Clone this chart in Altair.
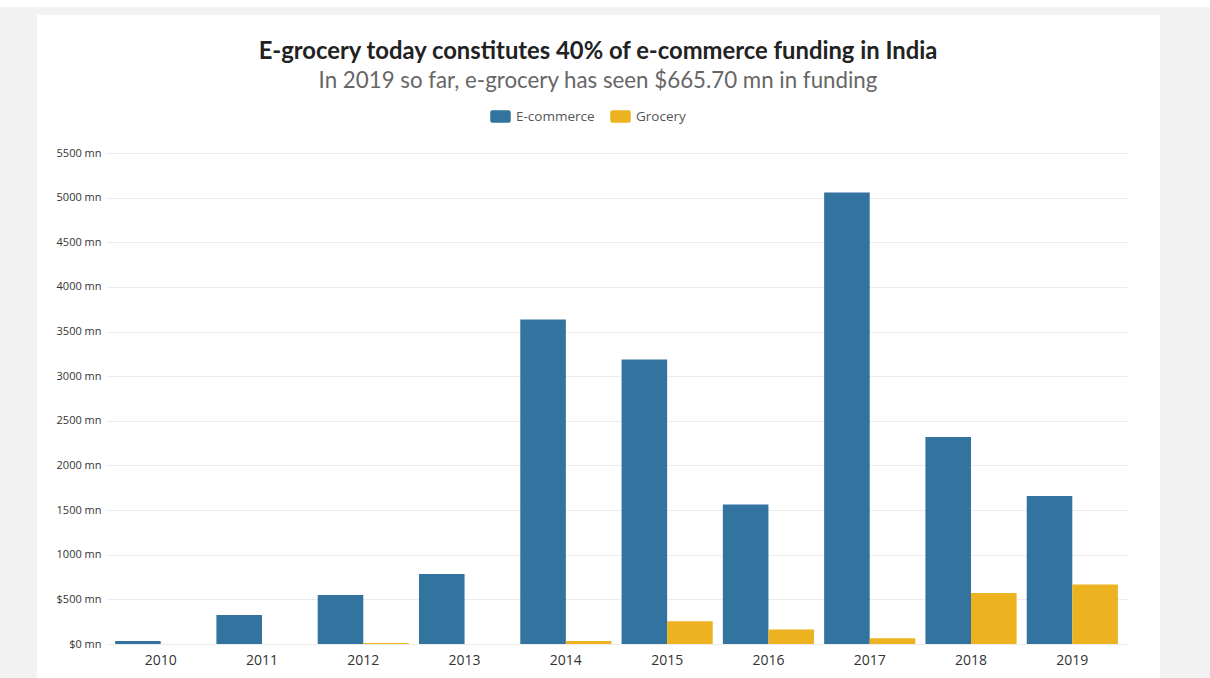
import altair as alt
import pandas as pd

years = ["2010", "2011", "2012", "2013", "2014", "2015", "2016", "2017", "2018", "2019"]
ecommerce = [35, 325, 550, 785, 3634, 3187, 1562, 5058, 2318, 1658]
grocery = [0, 0, 10, 0, 35, 254, 162, 65, 570, 665.7]
series = ["E-commerce", "Grocery"]
colors = ["#33739f", "#ecb220"]
y_ticks = list(range(0, 5501, 500))

title_text = "E-grocery today constitutes 40% of e-commerce funding in India"
subtitle_text = "In 2019 so far, e-grocery has seen $665.70 mn in funding"

rows = []
for i, yr in enumerate(years):
    rows.append({"year": yr, "series": series[0], "value": ecommerce[i]})
    rows.append({"year": yr, "series": series[1], "value": grocery[i]})
df = pd.DataFrame(rows)

W, H = 1021, 491
PL, PT, PR, PB = 106, 153, 83, 34

bars = alt.Chart(df).mark_bar().encode(
    x=alt.X("year:N", sort=years,
            scale=alt.Scale(paddingInner=0.1, paddingOuter=0.09),
            axis=alt.Axis(title=None, labelAngle=0, ticks=False, domain=False,
                          labelFont="Open Sans", labelFontSize=14, labelColor="#333333",
                          labelPadding=9, grid=False)),
    xOffset=alt.XOffset("series:N", sort=series, scale=alt.Scale(paddingInner=0, paddingOuter=0)),
    y=alt.Y("value:Q", scale=alt.Scale(domain=[0, 5500], nice=False),
            axis=alt.Axis(title=None, values=y_ticks, ticks=False, domain=False,
                          labelFont="Open Sans", labelFontSize=11, labelColor="#333333",
                          labelPadding=5, gridColor="#ececec", gridWidth=1,
                          labelExpr="datum.value < 1000 ? '$' + datum.value + ' mn' : datum.value + ' mn'")),
    color=alt.Color("series:N", sort=series,
                    scale=alt.Scale(domain=series, range=colors),
                    legend=alt.Legend(title=None, orient="none", direction="horizontal",
                                      legendX=384, legendY=-47,
                                      symbolType="M -0.8 -0.62 L 0.8 -0.62 Q 1 -0.62 1 -0.42 L 1 0.42 Q 1 0.62 0.8 0.62 L -0.8 0.62 Q -1 0.62 -1 0.42 L -1 -0.42 Q -1 -0.62 -0.8 -0.62 Z",
                                      symbolSize=420, symbolOpacity=1, symbolStrokeWidth=0,
                                      labelFont="Open Sans", labelFontSize=13.5, labelColor="#555555",
                                      columnPadding=15, labelOffset=5)),
)

one = pd.DataFrame({"a": [0]})
gray = "#f2f2f2"
strip_left = alt.Chart(one).mark_rect(color=gray).encode(
    x=alt.value(-PL), x2=alt.value(37 - PL), y=alt.value(7 - PT), y2=alt.value(678 - PT))
strip_right = alt.Chart(one).mark_rect(color=gray).encode(
    x=alt.value(1160 - PL), x2=alt.value(1210 - PL), y=alt.value(7 - PT), y2=alt.value(678 - PT))
strip_top = alt.Chart(one).mark_rect(color=gray).encode(
    x=alt.value(-PL), x2=alt.value(1210 - PL), y=alt.value(7 - PT), y2=alt.value(15 - PT))

title = alt.Chart(one).mark_text(font="Lato", fontSize=23.8, fontWeight="bold", color="#222222",
                                 align="center", baseline="middle").encode(
    x=alt.value(598 - PL), y=alt.value(52 - PT), text=alt.value(title_text))
subtitle = alt.Chart(one).mark_text(font="Lato", fontSize=22.3, color="#666666",
                                    align="center", baseline="middle").encode(
    x=alt.value(598 - PL), y=alt.value(81 - PT), text=alt.value(subtitle_text))

chart = alt.layer(strip_left, strip_right, strip_top, bars, title, subtitle).properties(
    width=W, height=H,
    autosize=alt.AutoSizeParams(type="none"),
    padding={"left": PL, "top": PT, "right": PR, "bottom": PB},
    background="white",
).configure_view(strokeWidth=0)

chart.save("out.html", embed_options={"renderer": "svg", "actions": False})
